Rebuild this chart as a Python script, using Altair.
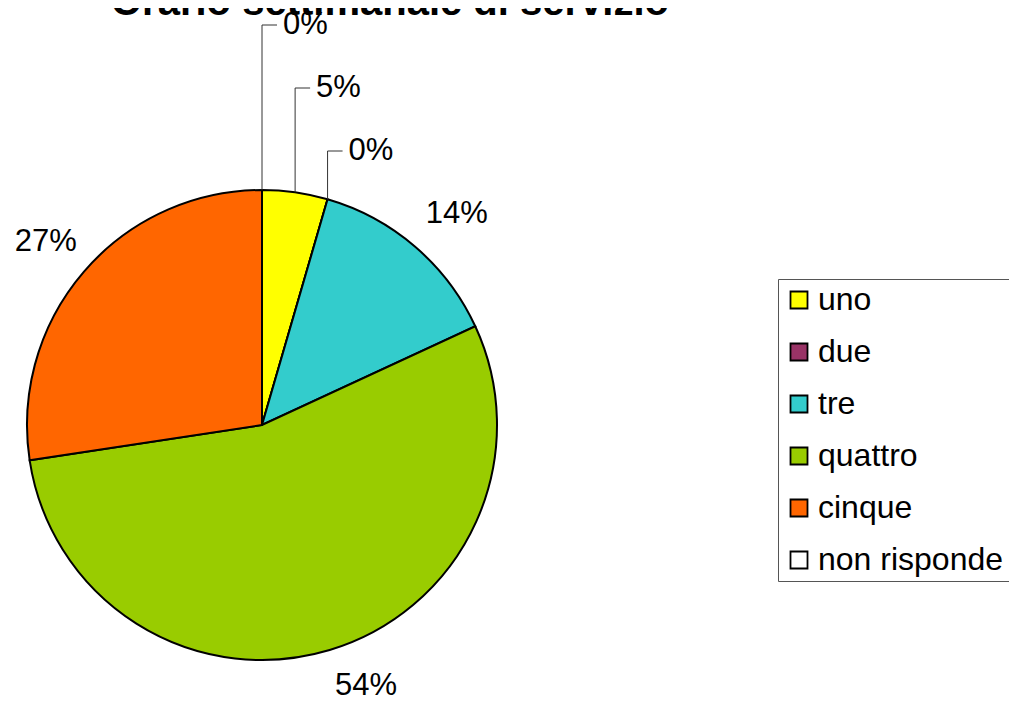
import math
import altair as alt
import pandas as pd

# ---- data ----
categories = ["uno", "due", "tre", "quattro", "cinque", "non risponde"]
values = [4.5, 0.0, 13.6, 54.5, 27.4, 0.0]          # slice sizes (percent)
pct_labels = ["5%", "0%", "14%", "54%", "27%", "0%"]  # labels as printed
colors = ["#FFFF00", "#993366", "#33CCCC", "#99CC00", "#FF6600", "#FFFFFF"]
title_text = "Orario settimanale di servizio"

# ---- layout ----
W, H = 1001, 688
CX, CY, R = 254, 417, 235
FONT = "Liberation Sans"
LABEL_R = 285
# pixel nudges of the outside labels (layout only)
label_nudge = {"tre": (9, 5), "quattro": (22, -12), "cinque": (0, 3)}

df = pd.DataFrame({
    "cat": categories,
    "value": values,
    "order": list(range(len(categories))),
    "lab": pct_labels,
})

base = alt.Chart(df)

color = alt.Color(
    "cat:N",
    scale=alt.Scale(domain=categories, range=colors),
    legend=alt.Legend(
        title=None,
        orient="none",
        legendX=770,
        legendY=271,
        symbolType="square",
        symbolSize=289,
        symbolStrokeColor="black",
        symbolStrokeWidth=1.8,
        labelFont=FONT,
        labelFontSize=32,
        labelColor="black",
        labelOffset=3,
        labelLimit=400,
        rowPadding=20,
        padding=5,
        strokeColor="#555555",
        fillColor="white",
    ),
)

pie = base.mark_arc(radius=R, stroke="black", strokeWidth=2).encode(
    theta=alt.Theta("value:Q", stack=True),
    color=color,
    order=alt.Order("order:Q"),
    x=alt.value(CX),
    y=alt.value(CY),
)

# outside labels of the large slices: each layer keeps the full stack, shows one label
outer_layers = []
for cat_name, (ddx, ddy) in label_nudge.items():
    outer_layers.append(
        base.transform_calculate(
            show=f"datum.cat === '{cat_name}' ? datum.lab : ''"
        ).mark_text(radius=LABEL_R, font=FONT, fontSize=31, color="black", dx=ddx, dy=ddy).encode(
            theta=alt.Theta("value:Q", stack=True),
            order=alt.Order("order:Q"),
            text="show:N",
            x=alt.value(CX),
            y=alt.value(CY),
        )
    )

# ---- leader-line labels for the small slices, derived from slice angles ----
total = sum(values)
cum = [sum(values[:i]) for i in range(len(values))]
leader_rows = []
label_y = {"non risponde": 17, "uno": 80, "due": 143}
for i, c in enumerate(categories):
    if c not in label_y:
        continue
    mid = (cum[i] + values[i] / 2) / total * 2 * math.pi
    if c == "non risponde":
        mid = 0.0
    ex = CX + R * math.sin(mid)
    ey = CY - R * math.cos(mid)
    ly = label_y[c]
    leader_rows.append({"x": ex, "y": ey, "x2": ex, "y2": ly, "lab": "", "tx": 0})
    leader_rows.append({"x": ex, "y": ly, "x2": ex + 15, "y2": ly, "lab": pct_labels[i], "tx": ex + 21})
ldf = pd.DataFrame(leader_rows)

leader_lines = alt.Chart(ldf).mark_rule(color="#333333", strokeWidth=1).encode(
    x=alt.X("x:Q", scale=None),
    y=alt.Y("y:Q", scale=None),
    x2="x2:Q",
    y2="y2:Q",
)
leader_text = alt.Chart(ldf).mark_text(
    font=FONT, fontSize=31, align="left", baseline="middle", color="black"
).encode(
    x=alt.X("tx:Q", scale=None),
    y=alt.Y("y2:Q", scale=None),
    text="lab:N",
)

title = alt.Chart(pd.DataFrame({"t": [title_text]})).mark_text(
    font=FONT, fontSize=40, fontWeight="bold", align="center", baseline="alphabetic", color="black"
).encode(
    text="t:N",
    x=alt.value(382),
    y=alt.value(7),
)

chart = (
    alt.layer(pie, *outer_layers, leader_lines, leader_text, title)
    .properties(width=W, height=H, autosize="none", padding=0)
    .configure_view(stroke=None)
)

chart.save("out.html", embed_options={"renderer": "svg", "actions": False})
